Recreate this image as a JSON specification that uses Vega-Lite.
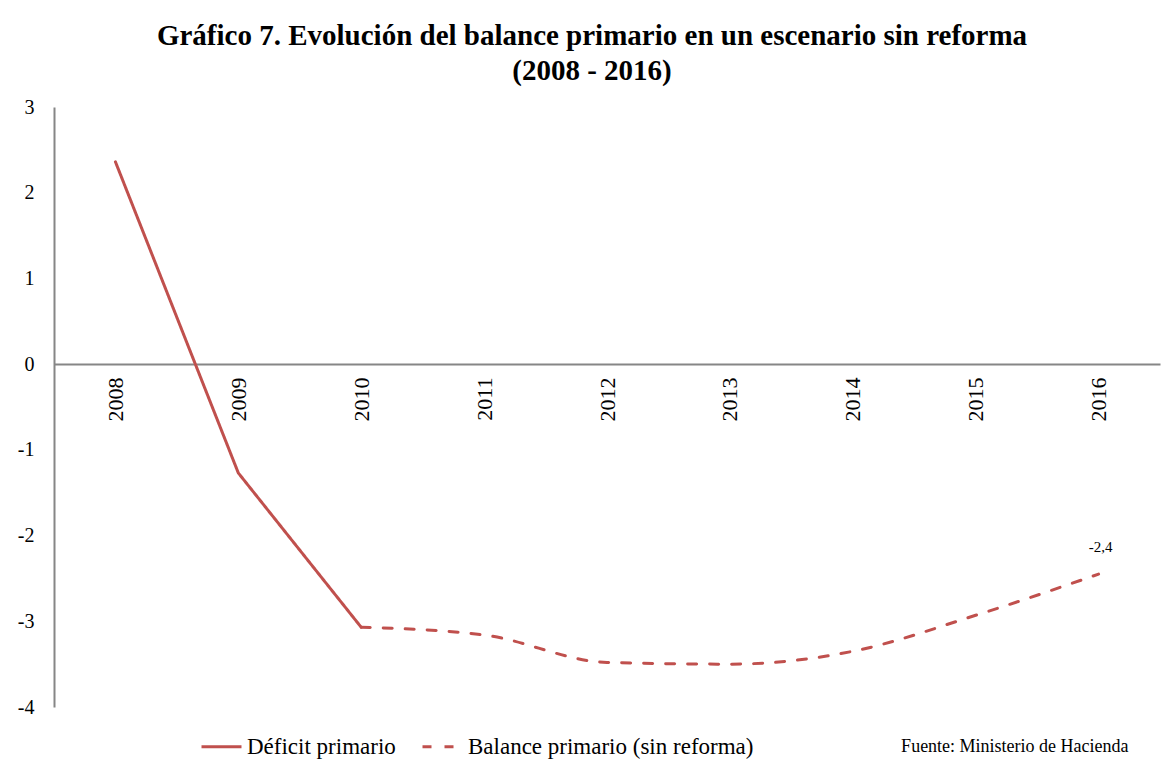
{
  "$schema": "https://vega.github.io/schema/vega-lite/v6.json",
  "width": 1106,
  "height": 600,
  "autosize": {"type": "none"},
  "padding": {"left": 54, "top": 107, "right": 7, "bottom": 58},
  "background": "white",
  "title": {
    "text": ["Gráfico 7. Evolución del balance primario en un escenario sin reforma", "(2008 - 2016)"],
    "font": "Liberation Serif",
    "fontSize": 29,
    "fontWeight": "bold",
    "color": "black",
    "anchor": "middle",
    "dx": -15,
    "offset": 11,
    "lineHeight": 35
  },
  "datasets": {
    "main": [
      {"year": "2008", "value": 2.36, "series": "Déficit primario", "label": ""},
      {"year": "2009", "value": -1.27, "series": "Déficit primario", "label": ""},
      {"year": "2010", "value": -3.07, "series": "Déficit primario", "label": ""},
      {"year": "2010", "value": -3.07, "series": "Balance primario (sin reforma)", "label": ""},
      {"year": "2011", "value": -3.16, "series": "Balance primario (sin reforma)", "label": ""},
      {"year": "2012", "value": -3.48, "series": "Balance primario (sin reforma)", "label": ""},
      {"year": "2013", "value": -3.5, "series": "Balance primario (sin reforma)", "label": ""},
      {"year": "2014", "value": -3.35, "series": "Balance primario (sin reforma)", "label": ""},
      {"year": "2015", "value": -2.93, "series": "Balance primario (sin reforma)", "label": ""},
      {"year": "2016", "value": -2.45, "series": "Balance primario (sin reforma)", "label": "-2,4"}
    ],
    "note": [
      {"note": "Fuente: Ministerio de Hacienda"}
    ]
  },
  "layer": [
    {
      "data": {"name": "main"},
      "transform": [{"filter": "datum.series === 'Déficit primario'"}],
      "mark": {"type": "line", "color": "#C0504D", "strokeWidth": 3, "strokeCap": "round"},
      "encoding": {
        "x": {
          "field": "year",
          "type": "ordinal",
          "scale": {"type": "point", "padding": 0.5},
          "axis": {
            "title": null,
            "orient": "bottom",
            "offset": -343,
            "ticks": false,
            "tickSize": 0,
            "labelAngle": 270,
            "labelPadding": 13,
            "labelFont": "Liberation Serif",
            "labelFontSize": 22,
            "labelColor": "black",
            "domainColor": "#868686",
            "domainWidth": 2,
            "grid": false
          }
        },
        "y": {
          "field": "value",
          "type": "quantitative",
          "scale": {"domain": [-4, 3], "nice": false, "zero": false},
          "axis": {
            "title": null,
            "values": [-4, -3, -2, -1, 0, 1, 2, 3],
            "labelExpr": "'' + datum.value",
            "ticks": false,
            "tickSize": 0,
            "labelPadding": 20,
            "labelFont": "Liberation Serif",
            "labelFontSize": 20,
            "labelColor": "black",
            "domainColor": "#868686",
            "domainWidth": 2,
            "grid": false
          }
        },
        "strokeDash": {
          "field": "series",
          "type": "nominal",
          "scale": {
            "domain": ["Déficit primario", "Balance primario (sin reforma)"],
            "range": [[1, 0], [9, 13]]
          },
          "legend": {
            "title": null,
            "orient": "none",
            "legendX": 146,
            "legendY": 618,
            "direction": "horizontal",
            "symbolType": "stroke",
            "symbolSize": 1600,
            "symbolStrokeColor": "#C0504D",
            "symbolStrokeWidth": 3,
            "labelFont": "Liberation Serif",
            "labelFontSize": 23,
            "labelColor": "black",
            "labelOffset": 4,
            "columnPadding": 20,
            "padding": 0,
            "labelLimit": 400
          }
        }
      }
    },
    {
      "data": {"name": "main"},
      "transform": [{"filter": "datum.series !== 'Déficit primario'"}],
      "mark": {"type": "line", "color": "#C0504D", "strokeWidth": 3, "strokeCap": "round", "interpolate": "monotone"},
      "encoding": {
        "x": {"field": "year", "type": "ordinal"},
        "y": {"field": "value", "type": "quantitative"},
        "strokeDash": {"field": "series", "type": "nominal"}
      }
    },
    {
      "data": {"name": "main"},
      "transform": [{"filter": "datum.label !== ''"}],
      "mark": {"type": "text", "font": "Liberation Serif", "fontSize": 15, "color": "black", "dy": -27, "dx": 2},
      "encoding": {
        "x": {"field": "year", "type": "ordinal"},
        "y": {"field": "value", "type": "quantitative"},
        "text": {"field": "label", "type": "nominal"}
      }
    },
    {
      "data": {"name": "note"},
      "mark": {"type": "text", "font": "Liberation Serif", "fontSize": 18, "color": "black", "align": "right", "baseline": "middle", "dx": 30},
      "encoding": {
        "x": {"datum": "2016", "type": "ordinal"},
        "y": {"datum": -4.47, "type": "quantitative"},
        "text": {"field": "note", "type": "nominal"}
      }
    }
  ],
  "config": {
    "view": {"stroke": null}
  }
}
